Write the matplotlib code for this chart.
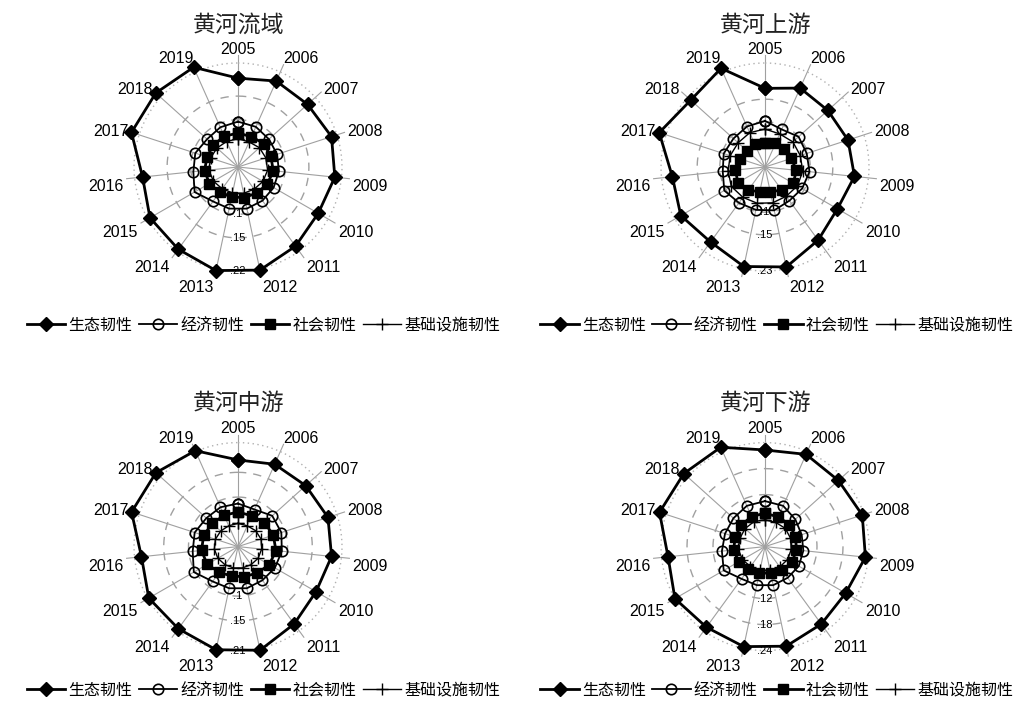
import numpy as np
import matplotlib
matplotlib.use('Agg')
import matplotlib.pyplot as plt

plt.rcParams['font.family'] = ['Liberation Sans', 'Noto Sans CJK SC']
plt.rcParams['axes.unicode_minus'] = False

years = [str(y) for y in range(2005, 2020)]
titles = ['黄河流域', '黄河上游', '黄河中游', '黄河下游']
series_names = ['生态韧性', '经济韧性', '社会韧性', '基础设施韧性']

# 黄河流域
eco_basin = [.188, .199, .198, .208, .206, .196, .207, .223, .224, .215, .215, .203, .237, .234, .231]
econ_basin = [.096, .093, .088, .087, .087, .087, .088, .090, .090, .090, .106, .095, .095, .088, .092]
soc_basin = [.072, .070, .074, .073, .075, .072, .068, .066, .065, .066, .070, .071, .069, .070, .071]
infra_basin = [.060, .058, .061, .062, .063, .061, .058, .057, .056, .057, .060, .062, .061, .060, .059]
rings_basin = [.10, .15, .22]

# 黄河上游
eco_up = [.174, .191, .187, .193, .199, .185, .200, .226, .225, .205, .215, .206, .246, .221, .239]
econ_up = [.102, .091, .100, .097, .099, .095, .092, .098, .097, .098, .104, .094, .096, .094, .098]
soc_up = [.054, .057, .058, .061, .070, .072, .063, .056, .056, .063, .069, .066, .059, .053, .055]
infra_up = [.084, .080, .083, .082, .084, .083, .080, .081, .082, .083, .086, .082, .081, .080, .083]
rings_up = [.10, .15, .23]

# 黄河中游
eco_mid = [.175, .182, .184, .191, .190, .182, .193, .214, .213, .205, .208, .196, .226, .223, .212]
econ_mid = [.087, .082, .093, .092, .089, .086, .084, .086, .086, .087, .103, .092, .092, .086, .087]
soc_mid = [.070, .068, .072, .075, .077, .073, .066, .062, .061, .064, .072, .074, .073, .070, .069]
infra_mid = [.047, .046, .048, .049, .048, .047, .045, .044, .044, .045, .047, .048, .048, .047, .046]
rings_mid = [.10, .15, .21]

# 黄河下游
eco_low = [.223, .233, .228, .236, .233, .215, .221, .235, .236, .230, .240, .225, .256, .252, .251]
econ_low = [.105, .103, .094, .089, .089, .090, .089, .091, .091, .092, .110, .100, .097, .098, .103]
soc_low = [.077, .075, .076, .074, .073, .072, .068, .063, .062, .065, .070, .073, .072, .074, .076]
infra_low = [.062, .061, .063, .062, .061, .060, .058, .056, .056, .057, .060, .062, .061, .062, .063]
rings_low = [.12, .18, .24]


def closed(vals):
    return list(vals) + [vals[0]]


def draw_radar(ax, eco, econ, soc, infra, rings):
    n = len(years)
    theta = np.linspace(0, 2 * np.pi, n, endpoint=False)
    th = closed(list(theta))
    rtop = rings[-1] * 1.077

    ax.set_theta_zero_location('N')
    ax.set_theta_direction(-1)
    ax.set_ylim(0, rtop)
    ax.axis('off')

    # 辐射线
    for t in theta:
        ax.plot([t, t], [0, rtop], color='#a0a0a0', lw=0.8, zorder=1, clip_on=False)

    # 刻度环
    circ = np.linspace(0, 2 * np.pi, 300)
    for r in rings[:-1]:
        ax.plot(circ, np.full_like(circ, r), color='#a0a0a0', lw=1.0,
                linestyle=(0, (6, 5)), zorder=1, clip_on=False)
    ax.plot(circ, np.full_like(circ, rings[-1]), color='#b0b0b0', lw=1.0,
            linestyle=(0, (1, 2.5)), zorder=1, clip_on=False)

    h1, = ax.plot(th, closed(eco), color='black', lw=2.0, marker='D', ms=7.5,
                  mfc='black', mec='black', zorder=5, clip_on=False)
    h2, = ax.plot(th, closed(econ), color='black', lw=1.3, marker='o', ms=7.5,
                  mfc='none', mec='black', mew=1.2, zorder=4, clip_on=False)
    h3, = ax.plot(th, closed(soc), color='black', lw=2.0, marker='s', ms=7.5,
                  mfc='black', mec='black', zorder=3, clip_on=False)
    h4, = ax.plot(th, closed(infra), color='black', lw=1.0, marker='+', ms=8,
                  mew=1.0, zorder=2, clip_on=False)

    # 年份标签
    for t, y in zip(theta, years):
        s, c = np.sin(t), np.cos(t)
        ha = 'center' if abs(s) < 0.05 else ('left' if s > 0 else 'right')
        if c > 0.9:
            va = 'bottom'
            rr = rtop * 0.985
        elif c < -0.05:
            va = 'top'
            rr = rtop * 1.03
        else:
            va = 'center'
            rr = rtop * 1.03
        ax.text(t, rr, y, ha=ha, va=va, fontsize=11.5, color='black')

    # 刻度值
    for r in rings:
        lbl = ('%g' % r).lstrip('0')
        ax.text(np.pi, r, lbl, ha='center', va='center', fontsize=8,
                color='black', zorder=6)

    return [h1, h2, h3, h4]


fig = plt.figure(figsize=(10.22, 7.11), dpi=100)

W, H = 1022.0, 711.0
rad = 112.0
centers = [(238, 167), (765, 167), (238, 546.6), (765, 546.6)]
panel_data = [
    (eco_basin, econ_basin, soc_basin, infra_basin, rings_basin),
    (eco_up, econ_up, soc_up, infra_up, rings_up),
    (eco_mid, econ_mid, soc_mid, infra_mid, rings_mid),
    (eco_low, econ_low, soc_low, infra_low, rings_low),
]
title_y = [25, 25, 403, 403]
legend_pos = [(263.5, 325), (777, 325), (263.5, 690), (777, 690)]

for i, ((cx, cy), data) in enumerate(zip(centers, panel_data)):
    ax = fig.add_axes([(cx - rad) / W, 1 - (cy + rad) / H, 2 * rad / W, 2 * rad / H],
                      projection='polar')
    handles = draw_radar(ax, *data)
    fig.text(cx / W, 1 - title_y[i] / H, titles[i], ha='center', va='center',
             fontsize=16.5, color='#222222')
    lx, ly = legend_pos[i]
    fig.legend(handles, series_names, loc='center', bbox_to_anchor=(lx / W, 1 - ly / H),
               ncol=4, frameon=False, handlelength=2.4, handletextpad=0.2,
               columnspacing=0.4, fontsize=11.5, borderaxespad=0, borderpad=0)

plt.savefig('out.png', dpi=100)
